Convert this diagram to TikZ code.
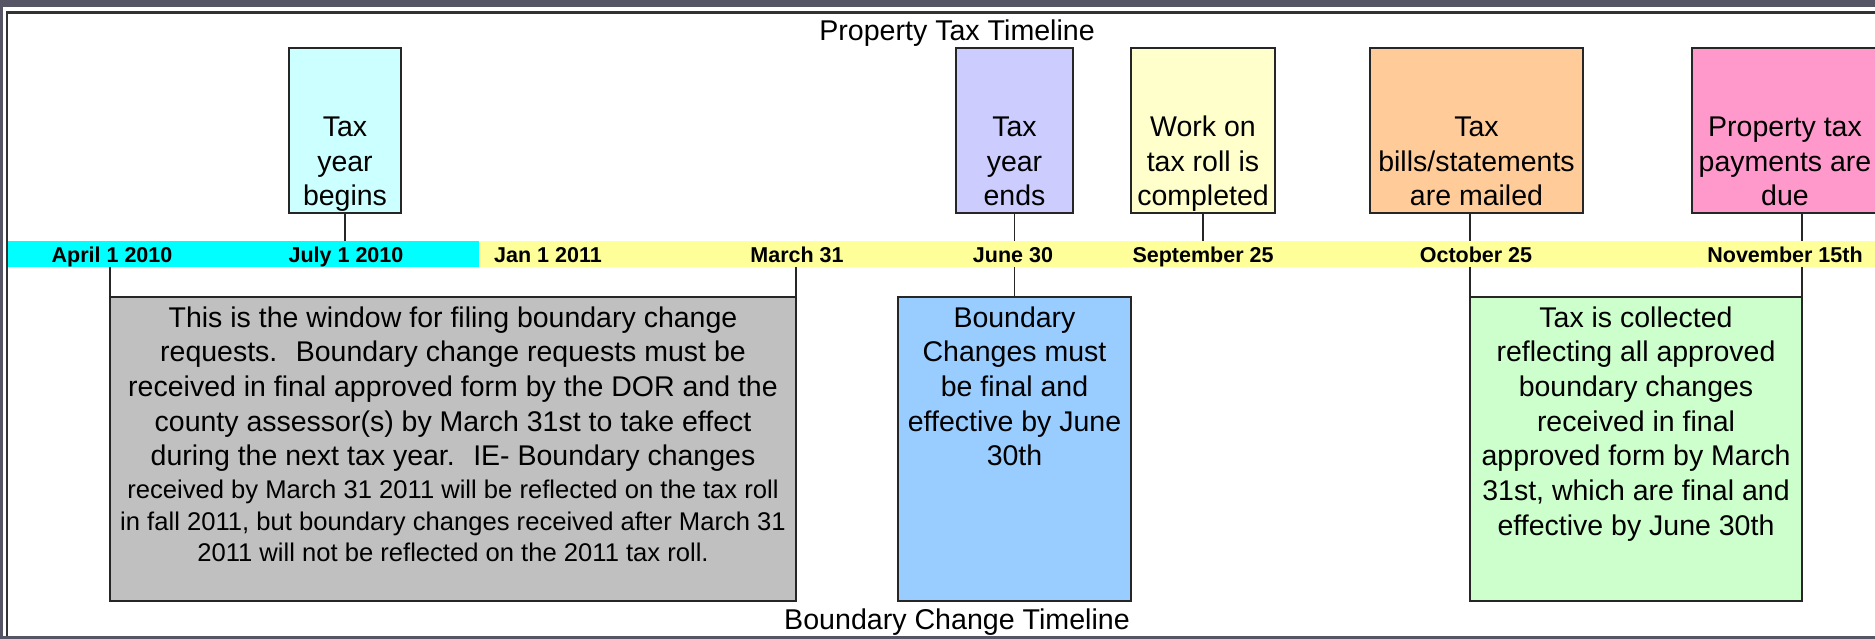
\documentclass[tikz,border=0pt]{standalone}
\usepackage{fontspec}
\setmainfont{Liberation Sans}
\definecolor{cBg}{HTML}{555566}
\definecolor{cBegins}{HTML}{CCFFFF}
\definecolor{cEnds}{HTML}{CCCCFF}
\definecolor{cWork}{HTML}{FFFFCC}
\definecolor{cBills}{HTML}{FFCC99}
\definecolor{cPay}{HTML}{FF99CC}
\definecolor{cGray}{HTML}{C0C0C0}
\definecolor{cBlue}{HTML}{99CCFF}
\definecolor{cGreen}{HTML}{CCFFCC}
\definecolor{cCyan}{HTML}{00FFFF}
\definecolor{cYellow}{HTML}{FFFF99}
\newcommand{\btxt}{\fontsize{28.5}{34.7}\selectfont}
\newcommand{\topcontent}[3]{\parbox[c][#1][b]{#2}{\centering\btxt #3\rule[-7pt]{0pt}{7pt}\par\vskip0pt}}
\newcommand{\botcontent}[3]{\parbox[c][#1][t]{#2}{\centering\btxt\rule{0pt}{30pt}#3\par}}
\tikzset{
  every node/.style={inner sep=0pt, outer sep=0pt},
  eventbox/.style={draw=black!85, line width=2pt},
  conn/.style={draw=black!85, line width=1.8pt},
  datelabel/.style={anchor=base, font=\fontsize{21.5}{24}\selectfont\bfseries},
  heading/.style={anchor=base, font=\fontsize{28.6}{34}\selectfont},
  barpart/.style={minimum height=26pt},
}
\begin{document}
\begin{tikzpicture}[x=1pt,y=-1pt]
\useasboundingbox (0,0) rectangle (1875,639);
\clip (0,0) rectangle (1875,639);
% frame
\fill[cBg] (0,0) rectangle (1875,639);
\fill[white] (3,7) rectangle (1875,636);
\draw[line width=2.5pt, black!80] (7,636) -- (7,12.5) -- (1880,12.5);

% headings
\node[heading] (title) at (957,40.5) {Property Tax Timeline};
\node[heading] (subtitle) at (957,629) {Boundary Change Timeline};

% timeline bar
\node[barpart, fill=cCyan, minimum width=471pt] (cyanbar) at (243.5,254.5) {};
\node[barpart, fill=cYellow, minimum width=1400pt, anchor=west] (yellowbar) at (cyanbar.east) {};

% date labels
\node[datelabel] (apr) at (112,263) {April 1 2010};
\node[datelabel] (jul) at (346,263) {July 1 2010};
\node[datelabel] (jan) at (548,263) {Jan 1 2011};
\node[datelabel] (mar) at (797,263) {March 31};
\node[datelabel] (jun) at (1013,263) {June 30};
\node[datelabel] (sep) at (1203,263) {September 25};
\node[datelabel] (oct) at (1476,263) {October 25};
\node[datelabel] (nov) at (1785,263) {November 15th};

% top boxes
\node[eventbox, fill=cBegins] (begins) at (345,130.5) {\topcontent{165pt}{112pt}{Tax\\year\\begins}};
\node[eventbox, fill=cEnds] (ends) at (1014.5,130.5) {\topcontent{165pt}{117pt}{Tax\\year\\ends}};
\node[eventbox, fill=cWork] (work) at (1203,130.5) {\topcontent{165pt}{144pt}{Work on\\tax roll is\\completed}};
\node[eventbox, fill=cBills] (bills) at (1476.5,130.5) {\topcontent{165pt}{213pt}{Tax\\bills/statements\\are mailed}};
\node[eventbox, fill=cPay] (payments) at (1785,130.5) {\topcontent{165pt}{186pt}{Property tax\\payments are\\due}};

% bottom boxes
\node[eventbox, fill=cGray] (gray) at (453,449) {\parbox[c][304pt][t]{686pt}{\centering\btxt\rule{0pt}{30pt}This is the window for filing boundary change\\requests.~ Boundary change requests must be\\received in final approved form by the DOR and the\\county assessor(s) by March 31st to take effect\\during the next tax year.~ IE- Boundary changes\par\vspace{1pt}\fontsize{25.6}{31.7}\selectfont received by March 31 2011 will be reflected on the tax roll\\in fall 2011, but boundary changes received after March 31\\2011 will not be reflected on the 2011 tax roll.\par}};
\node[eventbox, fill=cBlue] (blue) at (1014.5,449) {\botcontent{304pt}{233pt}{Boundary\\Changes must\\be final and\\effective by June\\30th}};
\node[eventbox, fill=cGreen] (green) at (1636,449) {\botcontent{304pt}{332pt}{Tax is collected\\reflecting all approved\\boundary changes\\received in final\\approved form by March\\31st, which are final and\\effective by June 30th}};

% connectors above the bar
\draw[conn] (begins.south) -- (begins.south |- cyanbar.north);
\draw[conn] (ends.south) -- (ends.south |- yellowbar.north);
\draw[conn] (work.south) -- (work.south |- yellowbar.north);
\draw[conn] (bills.south -| green.north west) -- (green.north west |- yellowbar.north);
\draw[conn] (payments.south -| green.north east) -- (green.north east |- yellowbar.north);
% connectors below the bar
\draw[conn] (gray.north west |- cyanbar.south) -- (gray.north west);
\draw[conn] (gray.north east |- yellowbar.south) -- (gray.north east);
\draw[conn] (blue.north |- yellowbar.south) -- (blue.north);
\draw[conn] (green.north west |- yellowbar.south) -- (green.north west);
\draw[conn] (green.north east |- yellowbar.south) -- (green.north east);
\end{tikzpicture}
\end{document}
